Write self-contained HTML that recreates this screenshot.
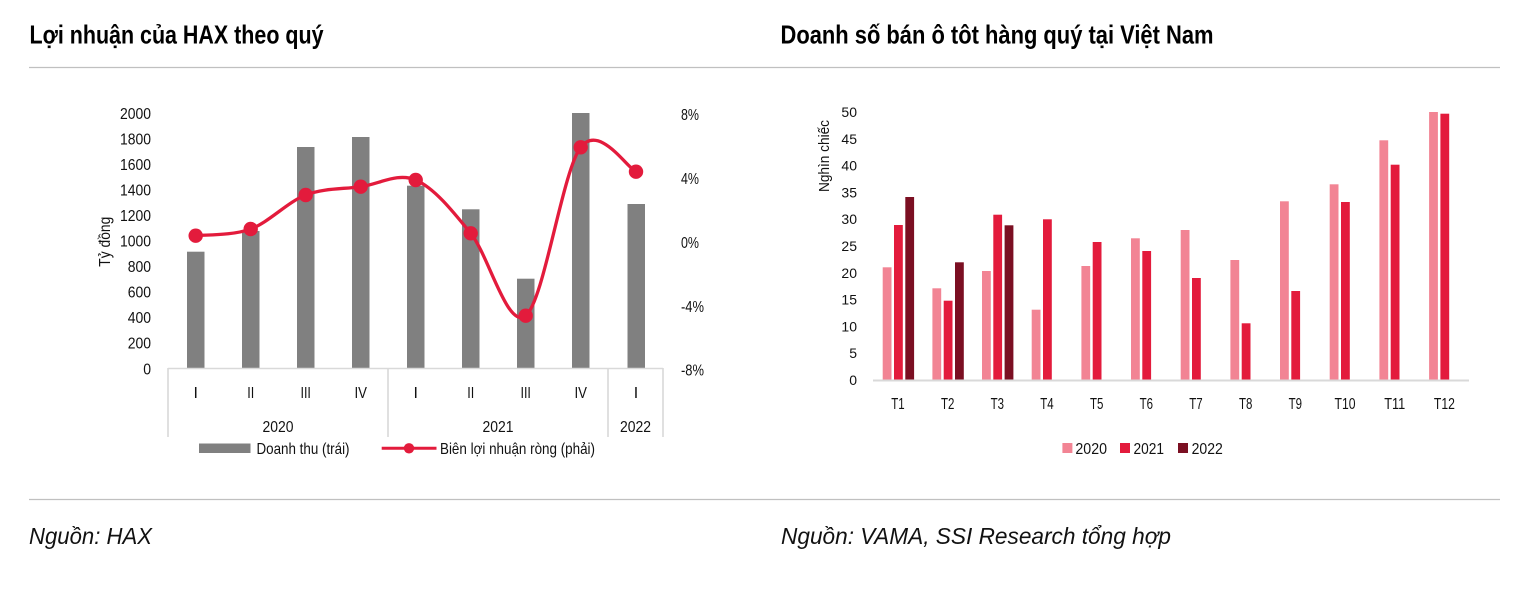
<!DOCTYPE html>
<html><head><meta charset="utf-8"><style>
html,body{margin:0;padding:0;background:#fff;}
svg{display:block;}
text{font-family:"Liberation Sans","DejaVu Sans",sans-serif;fill:#111;}
</style></head><body>
<svg width="1516" height="616" viewBox="0 0 1516 616" xmlns="http://www.w3.org/2000/svg">
<rect width="1516" height="616" fill="#fff"/>
<!-- titles -->
<text x="29.5" y="43.5" font-size="26" font-weight="bold" textLength="294" lengthAdjust="spacingAndGlyphs" style="fill:#000">Lợi nhuận của HAX theo quý</text>
<text x="780.5" y="43.5" font-size="26" font-weight="bold" textLength="433" lengthAdjust="spacingAndGlyphs" style="fill:#000">Doanh số bán ô tôt hàng quý tại Việt Nam</text>
<line x1="29" y1="67.5" x2="1500" y2="67.5" stroke="#c0c0c0" stroke-width="1.3"/>
<line x1="29" y1="499.5" x2="1500" y2="499.5" stroke="#c0c0c0" stroke-width="1.3"/>
<!-- sources -->
<text x="29" y="544" font-size="23" font-style="italic" textLength="123" lengthAdjust="spacingAndGlyphs">Nguồn: HAX</text>
<text x="781" y="544" font-size="23" font-style="italic" textLength="390" lengthAdjust="spacingAndGlyphs">Nguồn: VAMA, SSI Research tổng hợp</text>

<!-- LEFT CHART -->
<g font-size="16" text-anchor="end">
<text x="151" y="119" textLength="31" lengthAdjust="spacingAndGlyphs">2000</text>
<text x="151" y="144.5" textLength="31" lengthAdjust="spacingAndGlyphs">1800</text>
<text x="151" y="170" textLength="31" lengthAdjust="spacingAndGlyphs">1600</text>
<text x="151" y="195.5" textLength="31" lengthAdjust="spacingAndGlyphs">1400</text>
<text x="151" y="221" textLength="31" lengthAdjust="spacingAndGlyphs">1200</text>
<text x="151" y="246.5" textLength="31" lengthAdjust="spacingAndGlyphs">1000</text>
<text x="151" y="272" textLength="23.3" lengthAdjust="spacingAndGlyphs">800</text>
<text x="151" y="297.5" textLength="23.3" lengthAdjust="spacingAndGlyphs">600</text>
<text x="151" y="323" textLength="23.3" lengthAdjust="spacingAndGlyphs">400</text>
<text x="151" y="348.5" textLength="23.3" lengthAdjust="spacingAndGlyphs">200</text>
<text x="151" y="374.5" textLength="7.8" lengthAdjust="spacingAndGlyphs">0</text>
</g>
<text transform="translate(110,241.7) rotate(-90)" font-size="16" text-anchor="middle" textLength="50" lengthAdjust="spacingAndGlyphs">Tỷ đồng</text>
<g font-size="16">
<text x="681" y="120" textLength="18" lengthAdjust="spacingAndGlyphs">8%</text>
<text x="681" y="184" textLength="18" lengthAdjust="spacingAndGlyphs">4%</text>
<text x="681" y="248" textLength="18" lengthAdjust="spacingAndGlyphs">0%</text>
<text x="681" y="312" textLength="23" lengthAdjust="spacingAndGlyphs">-4%</text>
<text x="681" y="375.5" textLength="23" lengthAdjust="spacingAndGlyphs">-8%</text>
</g>
<!-- bars -->
<g fill="#808080">
<rect x="187" y="251.7" width="17.5" height="116.3"/>
<rect x="242" y="231" width="17.5" height="137"/>
<rect x="297" y="147" width="17.5" height="221"/>
<rect x="352" y="137" width="17.5" height="231"/>
<rect x="407" y="185.7" width="17.5" height="182.3"/>
<rect x="462" y="209.3" width="17.5" height="158.7"/>
<rect x="517" y="278.7" width="17.5" height="89.3"/>
<rect x="572" y="113" width="17.5" height="255"/>
<rect x="627.5" y="204" width="17.5" height="164"/>
</g>
<!-- category axis -->
<g stroke="#d9d9d9" stroke-width="1.6">
<line x1="168" y1="368.5" x2="663" y2="368.5"/>
<line x1="168" y1="368" x2="168" y2="437"/>
<line x1="388" y1="368" x2="388" y2="437"/>
<line x1="608" y1="368" x2="608" y2="437"/>
<line x1="663" y1="368" x2="663" y2="437"/>
</g>
<g font-size="16" text-anchor="middle">
<text x="195.7" y="398">I</text>
<text x="250.7" y="398" textLength="7" lengthAdjust="spacingAndGlyphs">II</text>
<text x="305.7" y="398" textLength="10.5" lengthAdjust="spacingAndGlyphs">III</text>
<text x="360.7" y="398" textLength="12.5" lengthAdjust="spacingAndGlyphs">IV</text>
<text x="415.7" y="398">I</text>
<text x="470.7" y="398" textLength="7" lengthAdjust="spacingAndGlyphs">II</text>
<text x="525.7" y="398" textLength="10.5" lengthAdjust="spacingAndGlyphs">III</text>
<text x="580.7" y="398" textLength="12.5" lengthAdjust="spacingAndGlyphs">IV</text>
<text x="636" y="398">I</text>
<text x="278" y="432" textLength="31" lengthAdjust="spacingAndGlyphs">2020</text>
<text x="498" y="432" textLength="31" lengthAdjust="spacingAndGlyphs">2021</text>
<text x="635.5" y="432" textLength="31" lengthAdjust="spacingAndGlyphs">2022</text>
</g>
<!-- smooth line -->
<path d="M195.7,235.7 C204.9,234.6 232.4,235.8 250.7,229 C269,222.2 287.4,202.1 305.7,195 C324,188 342.4,189.2 360.7,186.7 C379,184.2 397.4,172.2 415.7,180 C434,187.8 452.4,210.7 470.7,233.3 C489,255.9 507.4,330 525.7,315.7 C544,301.4 562.3,171.3 580.7,147.3 C599.1,123.3 626.8,167.6 636,171.7" fill="none" stroke="#e31b3c" stroke-width="3.3" stroke-linejoin="round"/>
<g fill="#e31b3c">
<circle cx="195.7" cy="235.7" r="7.2"/>
<circle cx="250.7" cy="229" r="7.2"/>
<circle cx="305.7" cy="195" r="7.2"/>
<circle cx="360.7" cy="186.7" r="7.2"/>
<circle cx="415.7" cy="180" r="7.2"/>
<circle cx="470.7" cy="233.3" r="7.2"/>
<circle cx="525.7" cy="315.7" r="7.2"/>
<circle cx="580.7" cy="147.3" r="7.2"/>
<circle cx="636" cy="171.7" r="7.2"/>
</g>
<!-- legend left -->
<rect x="199" y="443.5" width="51.5" height="9.5" fill="#808080"/>
<text x="256.5" y="454" font-size="16" textLength="93" lengthAdjust="spacingAndGlyphs">Doanh thu (trái)</text>
<line x1="381.7" y1="448.3" x2="436.5" y2="448.3" stroke="#e31b3c" stroke-width="3"/>
<circle cx="409" cy="448.3" r="5.2" fill="#e31b3c"/>
<text x="440" y="454" font-size="16" textLength="155" lengthAdjust="spacingAndGlyphs">Biên lợi nhuận ròng (phải)</text>

<!-- RIGHT CHART -->
<g font-size="14" text-anchor="end">
<text x="857" y="117">50</text>
<text x="857" y="143.8">45</text>
<text x="857" y="170.6">40</text>
<text x="857" y="197.4">35</text>
<text x="857" y="224.2">30</text>
<text x="857" y="251">25</text>
<text x="857" y="277.8">20</text>
<text x="857" y="304.6">15</text>
<text x="857" y="331.4">10</text>
<text x="857" y="358.2">5</text>
<text x="857" y="385">0</text>
</g>
<text transform="translate(829,156) rotate(-90)" font-size="15" text-anchor="middle" textLength="72" lengthAdjust="spacingAndGlyphs">Nghìn chiếc</text>
<!-- pink 2020 -->
<g fill="#f28494">
<rect x="882.7" y="267.3" width="8.8" height="112.7"/>
<rect x="932.4" y="288.3" width="8.8" height="91.7"/>
<rect x="982" y="271" width="8.8" height="109"/>
<rect x="1031.7" y="309.7" width="8.8" height="70.3"/>
<rect x="1081.4" y="266" width="8.8" height="114"/>
<rect x="1131" y="238.3" width="8.8" height="141.7"/>
<rect x="1180.7" y="230" width="8.8" height="150"/>
<rect x="1230.4" y="260" width="8.8" height="120"/>
<rect x="1280" y="201.3" width="8.8" height="178.7"/>
<rect x="1329.7" y="184.3" width="8.8" height="195.7"/>
<rect x="1379.4" y="140.3" width="8.8" height="239.7"/>
<rect x="1429.1" y="112" width="8.8" height="268"/>
</g>
<!-- red 2021 -->
<g fill="#e31b3c">
<rect x="894" y="225" width="8.8" height="155"/>
<rect x="943.7" y="300.7" width="8.8" height="79.3"/>
<rect x="993.3" y="214.7" width="8.8" height="165.3"/>
<rect x="1043" y="219.3" width="8.8" height="160.7"/>
<rect x="1092.7" y="242" width="8.8" height="138"/>
<rect x="1142.3" y="251" width="8.8" height="129"/>
<rect x="1192" y="278" width="8.8" height="102"/>
<rect x="1241.7" y="323.3" width="8.8" height="56.7"/>
<rect x="1291.3" y="291" width="8.8" height="89"/>
<rect x="1341" y="202" width="8.8" height="178"/>
<rect x="1390.7" y="164.7" width="8.8" height="215.3"/>
<rect x="1440.4" y="113.7" width="8.8" height="266.3"/>
</g>
<!-- dark 2022 -->
<g fill="#7b0f22">
<rect x="905.3" y="197" width="8.8" height="183"/>
<rect x="955" y="262.3" width="8.8" height="117.7"/>
<rect x="1004.6" y="225.3" width="8.8" height="154.7"/>
</g>
<line x1="873" y1="380.5" x2="1469" y2="380.5" stroke="#d9d9d9" stroke-width="2"/>
<g font-size="16" text-anchor="middle">
<text x="898" y="409" textLength="13.4" lengthAdjust="spacingAndGlyphs">T1</text>
<text x="947.7" y="409" textLength="13.4" lengthAdjust="spacingAndGlyphs">T2</text>
<text x="997.3" y="409" textLength="13.4" lengthAdjust="spacingAndGlyphs">T3</text>
<text x="1047" y="409" textLength="13.4" lengthAdjust="spacingAndGlyphs">T4</text>
<text x="1096.7" y="409" textLength="13.4" lengthAdjust="spacingAndGlyphs">T5</text>
<text x="1146.3" y="409" textLength="13.4" lengthAdjust="spacingAndGlyphs">T6</text>
<text x="1196" y="409" textLength="13.4" lengthAdjust="spacingAndGlyphs">T7</text>
<text x="1245.7" y="409" textLength="13.4" lengthAdjust="spacingAndGlyphs">T8</text>
<text x="1295.3" y="409" textLength="13.4" lengthAdjust="spacingAndGlyphs">T9</text>
<text x="1345" y="409" textLength="21" lengthAdjust="spacingAndGlyphs">T10</text>
<text x="1394.7" y="409" textLength="21" lengthAdjust="spacingAndGlyphs">T11</text>
<text x="1444.4" y="409" textLength="21" lengthAdjust="spacingAndGlyphs">T12</text>
</g>
<!-- legend right -->
<rect x="1062.4" y="443" width="10" height="10" fill="#f28494"/>
<text x="1075.4" y="454" font-size="16" textLength="31.6" lengthAdjust="spacingAndGlyphs">2020</text>
<rect x="1120" y="443" width="10" height="10" fill="#e31b3c"/>
<text x="1133.5" y="454" font-size="16" textLength="30.5" lengthAdjust="spacingAndGlyphs">2021</text>
<rect x="1178" y="443" width="10" height="10" fill="#7b0f22"/>
<text x="1191.6" y="454" font-size="16" textLength="31.2" lengthAdjust="spacingAndGlyphs">2022</text>
</svg>
</body></html>
